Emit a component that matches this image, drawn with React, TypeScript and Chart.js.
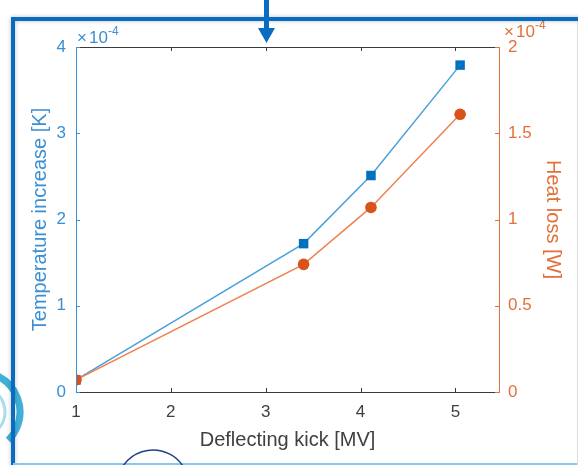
import React, { useEffect, useRef } from "react";
import { Chart, registerables } from "chart.js";

Chart.register(...registerables);

const kickMV = [1, 3.4, 4.11, 5.05];
const temperatureK = [0.14e-4, 1.72e-4, 2.51e-4, 3.79e-4];
const heatLossW = [0.07e-4, 0.74e-4, 1.07e-4, 1.61e-4];
const xTicks = [1, 2, 3, 4, 5];
const leftTicks = [0, 1e-4, 2e-4, 3e-4, 4e-4];
const rightTicks = [0, 0.5e-4, 1e-4, 1.5e-4, 2e-4];

const BLUE_AX = "#3b8fd2";
const ORANGE_AX = "#e2703a";
const FONT = "'Liberation Sans', Arial, sans-serif";

const decoPlugin = {
  id: "deco",
  beforeDraw(chart: any) {
    const ctx = chart.ctx;
    ctx.save();
    ctx.fillStyle = "#ffffff";
    ctx.fillRect(0, 0, chart.width, chart.height);
    ctx.strokeStyle = "#3fb0d8";
    ctx.lineWidth = 7;
    ctx.beginPath();
    ctx.arc(-20, 412, 40, (-65 * Math.PI) / 180, (45 * Math.PI) / 180);
    ctx.stroke();
    ctx.lineWidth = 3;
    ctx.strokeStyle = "#a9dcef";
    ctx.beginPath();
    ctx.arc(-20, 412, 25, (-50 * Math.PI) / 180, (40 * Math.PI) / 180);
    ctx.stroke();
    ctx.restore();
  },
  afterDraw(chart: any) {
    const ctx = chart.ctx;
    const xs = chart.scales.x;
    const yl = chart.scales.y;
    const yr = chart.scales.y1;
    const { left, right, top, bottom } = chart.chartArea;
    ctx.save();
    ctx.lineWidth = 1;
    ctx.strokeStyle = "#3a3a3a";
    ctx.beginPath();
    ctx.moveTo(left, top + 0.5);
    ctx.lineTo(right, top + 0.5);
    ctx.moveTo(left, bottom + 0.5);
    ctx.lineTo(right, bottom + 0.5);
    ctx.stroke();
    for (const v of xTicks) {
      const px = Math.round(xs.getPixelForValue(v)) + 0.5;
      ctx.beginPath();
      ctx.moveTo(px, bottom);
      ctx.lineTo(px, bottom - 4);
      ctx.moveTo(px, top);
      ctx.lineTo(px, top + 4);
      ctx.stroke();
    }
    ctx.strokeStyle = BLUE_AX;
    ctx.beginPath();
    ctx.moveTo(left + 0.5, top);
    ctx.lineTo(left + 0.5, bottom + 1);
    for (const v of leftTicks) {
      const py = Math.round(yl.getPixelForValue(v)) + 0.5;
      ctx.moveTo(left, py);
      ctx.lineTo(left + 4, py);
    }
    ctx.stroke();
    ctx.strokeStyle = ORANGE_AX;
    ctx.beginPath();
    ctx.moveTo(right + 0.5, top);
    ctx.lineTo(right + 0.5, bottom + 1);
    for (const v of rightTicks) {
      const py = Math.round(yr.getPixelForValue(v)) + 0.5;
      ctx.moveTo(right, py);
      ctx.lineTo(right - 4, py);
    }
    ctx.stroke();
    const drawExp = (x: number, y: number, color: string) => {
      ctx.fillStyle = color;
      ctx.textBaseline = "alphabetic";
      ctx.textAlign = "left";
      ctx.font = `17px ${FONT}`;
      ctx.fillText("\u00d7", x, y);
      ctx.fillText("10", x + 12, y);
      ctx.font = `12px ${FONT}`;
      ctx.fillText("-4", x + 31, y - 8);
    };
    drawExp(left + 1, top - 4, BLUE_AX);
    drawExp(right + 5, top - 10, ORANGE_AX);

    ctx.strokeStyle = "#0a6cc0";
    ctx.lineWidth = 4;
    ctx.shadowColor = "rgba(0,0,0,0.25)";
    ctx.shadowBlur = 4;
    ctx.beginPath();
    ctx.moveTo(13, 470);
    ctx.lineTo(13, 19);
    ctx.lineTo(590, 19);
    ctx.stroke();
    ctx.shadowBlur = 0;
    ctx.shadowColor = "transparent";
    ctx.strokeStyle = "#8cc4ec";
    ctx.lineWidth = 2;
    ctx.beginPath();
    ctx.moveTo(13, 464);
    ctx.lineTo(578, 464);
    ctx.stroke();
    ctx.strokeStyle = "#dddddd";
    ctx.lineWidth = 1;
    ctx.beginPath();
    ctx.moveTo(577.5, 21);
    ctx.lineTo(577.5, 465);
    ctx.stroke();
    ctx.fillStyle = "#0a6cc0";
    ctx.fillRect(264, 0, 5, 30);
    ctx.beginPath();
    ctx.moveTo(258, 28);
    ctx.lineTo(275, 28);
    ctx.lineTo(266.5, 43);
    ctx.closePath();
    ctx.fill();
    ctx.strokeStyle = "#1e3f8a";
    ctx.lineWidth = 1.5;
    ctx.beginPath();
    ctx.arc(153, 486, 36, Math.PI * 1.15, Math.PI * 1.85);
    ctx.stroke();
    ctx.restore();
  },
};

export default function App() {
  const ref = useRef<HTMLCanvasElement | null>(null);
  useEffect(() => {
    document.body.style.margin = "0";
    const setTicks = (vals: number[]) => (scale: any) => {
      scale.ticks = vals.map((v) => ({ value: v }));
    };
    const chart = new Chart(ref.current as HTMLCanvasElement, {
      type: "line",
      data: {
        datasets: [
          {
            label: "Heat loss",
            data: kickMV.map((x, i) => ({ x, y: heatLossW[i] })),
            yAxisID: "y1",
            borderColor: "#ee8250",
            backgroundColor: "#D95319",
            borderWidth: 1.5,
            pointStyle: "circle",
            pointRadius: 5.8,
            pointBorderWidth: 0,
            order: 0,
          },
          {
            label: "Temperature increase",
            data: kickMV.map((x, i) => ({ x, y: temperatureK[i] })),
            yAxisID: "y",
            borderColor: "#4aa0dc",
            backgroundColor: "#0072BD",
            borderWidth: 1.5,
            pointStyle: "rect",
            pointRadius: 6.7,
            pointBorderWidth: 0,
            order: 1,
          },
        ],
      },
      options: {
        animation: false,
        responsive: false,
        layout: { padding: { top: 47, left: 24, right: 0, bottom: 0 } },
        plugins: { legend: { display: false }, tooltip: { enabled: false } },
        elements: { line: { tension: 0 } },
        scales: {
          x: {
            type: "linear",
            min: 1,
            max: 5.46,
            afterBuildTicks: setTicks(xTicks),
            afterFit: (s: any) => {
              s.height = 73;
            },
            grid: { display: false, drawTicks: false },
            border: { display: false },
            ticks: {
              color: "#404040",
              font: { family: FONT, size: 17 },
              padding: 10,
              callback: (v: any) => String(v),
            },
            title: {
              display: true,
              text: "Deflecting kick [MV]",
              color: "#404040",
              font: { family: FONT, size: 20 },
              padding: { top: 0, bottom: 13 },
            },
          },
          y: {
            type: "linear",
            position: "left",
            min: 0,
            max: 4e-4,
            afterBuildTicks: setTicks(leftTicks),
            afterFit: (s: any) => {
              s.width = 52;
            },
            grid: { display: false, drawTicks: false },
            border: { display: false },
            ticks: {
              color: BLUE_AX,
              font: { family: FONT, size: 17 },
              padding: 10,
              callback: (v: any) => String(Math.round(v * 1e5) / 10),
            },
            title: {
              display: true,
              text: "Temperature increase [K]",
              color: BLUE_AX,
              font: { family: FONT, size: 20 },
              padding: { top: 4, bottom: 0 },
            },
          },
          y1: {
            type: "linear",
            position: "right",
            min: 0,
            max: 2e-4,
            afterBuildTicks: setTicks(rightTicks),
            afterFit: (s: any) => {
              s.width = 79;
            },
            grid: { display: false, drawTicks: false },
            border: { display: false },
            ticks: {
              color: ORANGE_AX,
              font: { family: FONT, size: 17 },
              padding: 9,
              callback: (v: any) => String(Math.round(v * 1e5) / 10),
            },
            title: {
              display: true,
              text: "Heat loss [W]",
              color: ORANGE_AX,
              font: { family: FONT, size: 20 },
              padding: { top: 13, bottom: 0 },
            },
          },
        },
      },
      plugins: [decoPlugin],
    });
    return () => chart.destroy();
  }, []);
  return <canvas ref={ref} width={578} height={465} style={{ display: "block" }} />;
}
